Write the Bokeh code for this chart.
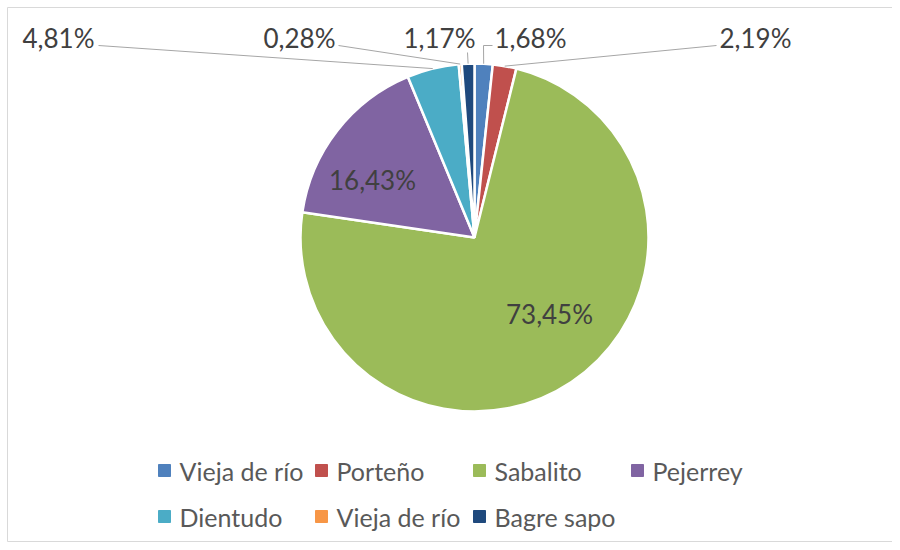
import math
from bokeh.plotting import figure
from bokeh.models import Range1d, ColumnDataSource
from bokeh.core.properties import value
from bokeh.embed import file_html
from bokeh.resources import INLINE

# ---- data ----
species = ["Vieja de río", "Porteño", "Sabalito", "Pejerrey", "Dientudo", "Vieja de río", "Bagre sapo"]
shares = [1.68, 2.19, 73.45, 16.43, 4.81, 0.28, 1.17]
colors = ["#4F81BD", "#C0504D", "#9BBB59", "#8064A2", "#4BACC6", "#F79646", "#1F497D"]

# ---- layout (image pixel coordinates) ----
W, H = 892, 542
CX, CY, R = 474, 237, 174
FONT = "Lato"
LABEL_SIZE = "26px"
LEGEND_SIZE = "25px"

def Y(y_img):
    return H - y_img

p = figure(width=W, height=H, output_backend="svg", toolbar_location=None,
           x_range=Range1d(0, W), y_range=Range1d(0, H), min_border=0)
p.axis.visible = False
p.grid.visible = False
p.outline_line_color = None
p.background_fill_color = "white"
p.border_fill_color = "white"

# chart border (left, top and bottom edges; right edge lies outside the view)
p.multi_line(xs=[[W + 20, 7, 7, W + 20]], ys=[[Y(7), Y(7), Y(541), Y(541)]],
             line_color="#d9d9d9", line_width=1)

total = sum(shares)
starts, ends, mids = [], [], []
cum = 0.0
for v in shares:
    s = cum / total
    cum += v
    e = cum / total
    starts.append(s)
    ends.append(e)
    mids.append((s + e) / 2)

src = ColumnDataSource(dict(
    x=[CX] * len(shares), y=[Y(CY)] * len(shares),
    start=[math.pi / 2 - 2 * math.pi * e for e in ends],
    end=[math.pi / 2 - 2 * math.pi * s for s in starts],
    color=colors,
))
p.wedge(x="x", y="y", radius=R, start_angle="start", end_angle="end",
        direction="anticlock", fill_color="color", line_color="white",
        line_width=2.5, source=src)

def fmt(v):
    return f"{v:.2f}".replace(".", ",") + "%"

def edge(i):
    a = 2 * math.pi * mids[i]
    return CX + R * math.sin(a), CY - R * math.cos(a)

# outside labels: index -> (text x, center y, align, leader start points)
outside = {
    0: (494, 37, "left", [(492, 45), (483, 45)]),
    1: (719, 37, "left", [(716, 45)]),
    4: (94, 37, "right", [(98, 45)]),
    5: (335, 37, "right", [(338, 45)]),
    6: (475, 37, "right", [(467, 52)]),
}
xs_lines, ys_lines = [], []
for i, (tx, ty, al, pts) in outside.items():
    ex, ey = edge(i)
    path = pts + [(ex, ey)]
    xs_lines.append([q[0] for q in path])
    ys_lines.append([Y(q[1]) for q in path])
    p.text(x=[tx], y=[Y(ty)], text=[fmt(shares[i])], text_align=al,
           text_baseline="middle", text_font=value(FONT),
           text_font_size=LABEL_SIZE, text_color="#404040")
p.multi_line(xs=xs_lines, ys=ys_lines, line_color="#a6a6a6", line_width=1)

inside = {
    2: (549, 313),
    3: (372, 179),
}
for i, (tx, ty) in inside.items():
    p.text(x=[tx], y=[Y(ty)], text=[fmt(shares[i])], text_align="center",
           text_baseline="middle", text_font=value(FONT),
           text_font_size=LABEL_SIZE, text_color="#404040")

# legend
leg_sq_x = [164, 321, 479, 637, 164, 321, 479]
leg_row_y = [470, 470, 470, 470, 516, 516, 516]
for i, name in enumerate(species):
    p.scatter(x=[leg_sq_x[i]], y=[Y(leg_row_y[i])], marker="square", size=12,
              fill_color=colors[i], line_color=colors[i])
    p.text(x=[leg_sq_x[i] + 15], y=[Y(leg_row_y[i])], text=[name],
           text_align="left", text_baseline="middle", text_font=value(FONT),
           text_font_size=LEGEND_SIZE, text_color="#595959")

open("out.html", "w").write(file_html(p, INLINE))
